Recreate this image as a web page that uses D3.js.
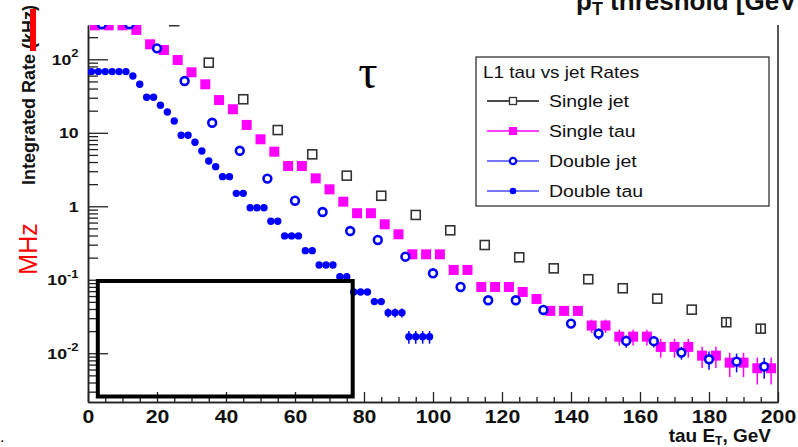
<!DOCTYPE html>
<html>
<head>
<meta charset="utf-8">
<script src="https://cdn.jsdelivr.net/npm/d3@7"></script>
<style>
  body { margin: 0; background: #fff; }
  svg { display: block; font-family: "Liberation Sans", Arial, Helvetica, sans-serif; }
</style>
</head>
<body>
<svg id="chart" width="798" height="447"></svg>
<script>
// ---- Rates vs threshold (kHz), one array per series ----
const singleJetX = [25, 35, 45, 55, 65, 75, 85, 95, 105, 115, 125, 135, 145, 155, 165, 175, 185, 195];
const singleJetY = [330, 89.9, 28.6, 10.9, 5.09, 2.61, 1.39, 0.762, 0.471, 0.297, 0.202, 0.143, 0.1016, 0.0766, 0.0553, 0.0392, 0.0264, 0.0216];
const singleJetErr = [0, 0, 0, 0, 0, 0, 0, 0, 0, 0, 0, 0, 0, 0, 0, 0, 0.0035, 0.003];

const singleTauX = [2, 6, 10, 14, 18, 22, 26, 30, 34, 38, 42, 46, 50, 54, 58, 62, 66, 70, 74, 78, 82, 86, 90, 94, 98,
  102, 106, 110, 114, 118, 122, 126, 130, 134, 138, 142, 146, 150, 154, 158, 162, 166, 170, 174, 178, 182, 186, 190, 194, 198];
const singleTauY = [290, 290, 290, 251, 160, 134, 97.8, 66.6, 45.7, 27.9, 20.9, 12.8, 8.16, 5.53, 3.53, 3.53, 2.40, 1.70, 1.155, 0.804, 0.804, 0.569, 0.416, 0.222, 0.222,
  0.222, 0.136, 0.136, 0.0798, 0.0798, 0.0798, 0.0682, 0.0548, 0.0377, 0.0377, 0.0377, 0.0238, 0.0238, 0.0168, 0.0168, 0.0168, 0.0122, 0.0122, 0.0122, 0.00928, 0.00928, 0.00745, 0.00745, 0.00625, 0.00625];
const singleTauErr = [0, 0, 0, 0, 0, 0, 0, 0, 0, 0, 0, 0, 0, 0, 0, 0, 0, 0, 0, 0, 0, 0, 0, 0, 0,
  0, 0, 0, 0, 0, 0, 0, 0, 0, 0, 0, 0.0049, 0.0049, 0.0041, 0.0041, 0.0041, 0.0035, 0.0035, 0.0035, 0.003, 0.003, 0.0027, 0.0027, 0.0025, 0.0025];

const doubleJetX = [4, 12, 20, 28, 36, 44, 52, 60, 68, 76, 84, 92, 100, 108, 116, 124, 132, 140, 148, 156, 164, 172, 180, 188, 196];
const doubleJetY = [300, 300, 141, 50.7, 13.7, 5.70, 2.38, 1.19, 0.836, 0.461, 0.348, 0.206, 0.1225, 0.0798, 0.0526, 0.0526, 0.0388, 0.0253, 0.0185, 0.0147, 0.0146, 0.0102, 0.00828, 0.00769, 0.00658];
const doubleJetErr = [0, 0, 0, 0, 0, 0, 0, 0, 0, 0, 0, 0, 0, 0, 0, 0, 0, 0.003, 0.0033, 0.0028, 0.0026, 0.002, 0.0023, 0.0022, 0.0021];

const doubleTauX = [1, 3, 5, 7, 9, 11, 13, 15, 17, 19, 21, 23, 25, 27, 29, 31, 33, 35, 37, 39, 41, 43, 45, 47, 49,
  51, 53, 55, 57, 59, 61, 63, 65, 67, 69, 71, 73, 75, 77, 79, 81, 83, 85, 87, 89, 91, 93, 95, 97, 99];
const doubleTauY = [68, 68, 68, 68, 68, 68, 59.3, 45.7, 30.4, 30.4, 23.7, 19.2, 14.5, 9.25, 9.25, 7.43, 5.65, 4.13, 3.46, 2.53, 2.53, 1.50, 1.50, 0.957, 0.957,
  0.957, 0.625, 0.625, 0.395, 0.395, 0.395, 0.249, 0.249, 0.159, 0.159, 0.159, 0.110, 0.110, 0.0682, 0.0682, 0.0682, 0.0504, 0.0504, 0.0357, 0.0357, 0.0357, 0.0168, 0.0168, 0.0168, 0.0168];
const doubleTauErr = [0, 0, 0, 0, 0, 0, 0, 0, 0, 0, 0, 0, 0, 0, 0, 0, 0, 0, 0, 0, 0, 0, 0, 0, 0,
  0, 0, 0, 0, 0, 0, 0, 0, 0, 0, 0, 0, 0, 0, 0, 0, 0, 0, 0.005, 0.005, 0.005, 0.0033, 0.0033, 0.0033, 0.0033];

// ---- Axis ticks ----
const xTickValues = [0, 20, 40, 60, 80, 100, 120, 140, 160, 180, 200];
const xTickLabels = ["0", "20", "40", "60", "80", "100", "120", "140", "160", "180", "200"];
const yTickValues = [0.01, 0.1, 1, 10, 100];
const yTickLabels = [["10", "-2"], ["10", "-1"], ["1", ""], ["10", ""], ["10", "2"]];

const legendTitle = "L1 tau vs jet Rates";
const legendNames = ["Single jet", "Single tau", "Double jet", "Double tau"];

// ---- Layout ----
const plot = { left: 88, right: 778, top: 25, bottom: 402 };
const x = d3.scaleLinear().domain([0, 200]).range([plot.left, plot.right]);
const y = d3.scaleLog().domain([0.00217, 293]).range([plot.bottom, plot.top]);

const BLUE = "#0000ff", MAGENTA = "#ff00ff", AXIS = "#222";
const WIDE = "scale(1.18,1)";   // labels are set slightly wide
const svg = d3.select("#chart");

svg.append("defs").append("clipPath").attr("id", "plotClip")
  .append("rect")
  .attr("x", plot.left).attr("y", plot.top)
  .attr("width", plot.right - plot.left).attr("height", plot.bottom - plot.top);

// Heading fragment at the very top
const head = svg.append("text").attr("x", 576).attr("y", 10)
  .attr("font-size", 26).attr("font-weight", "bold").attr("fill", "#111");
head.append("tspan").text("p");
head.append("tspan").attr("font-size", 18).attr("dy", 5).text("T");
head.append("tspan").attr("dy", -5).text(" threshold [GeV");

// ---- Axes ----
function styleAxis(g) {
  g.attr("font-family", null).attr("font-size", null);
  g.select(".domain").attr("stroke", AXIS).attr("stroke-width", 1.5);
  g.selectAll(".tick line").attr("stroke", AXIS).attr("stroke-width", 1.3);
}

const xMinor = d3.range(0, 201, 5).filter(v => v % 20 !== 0);
const gxMinor = svg.append("g").attr("transform", `translate(0,${plot.bottom})`)
  .call(d3.axisBottom(x).tickValues(xMinor).tickSize(-5).tickSizeOuter(0).tickFormat(""));
styleAxis(gxMinor);
const gx = svg.append("g").attr("transform", `translate(0,${plot.bottom})`)
  .call(d3.axisBottom(x).tickValues(xTickValues).tickSize(-10).tickSizeOuter(0).tickPadding(8)
    .tickFormat((d, i) => xTickLabels[i]));
styleAxis(gx);
gx.selectAll("text").attr("font-size", 18).attr("font-weight", "bold").attr("fill", "#111")
  .attr("transform", WIDE);

const yMinor = [];
for (let e = -3; e <= 2; e++) for (let m = 2; m <= 9; m++) {
  const v = m * Math.pow(10, e);
  if (v >= y.domain()[0] && v <= y.domain()[1]) yMinor.push(v);
}
const gyMinor = svg.append("g").attr("transform", `translate(${plot.left},0)`)
  .call(d3.axisLeft(y).tickValues(yMinor).tickSize(-10).tickSizeOuter(0).tickFormat(""));
styleAxis(gyMinor);
const gy = svg.append("g").attr("transform", `translate(${plot.left},0)`)
  .call(d3.axisLeft(y).tickValues(yTickValues).tickSize(-20).tickSizeOuter(0).tickPadding(8)
    .tickFormat(() => ""));
styleAxis(gy);
gy.selectAll(".tick text").each(function (d, i) {
  const t = d3.select(this).attr("font-size", 15).attr("font-weight", "bold").attr("fill", "#111")
    .attr("transform", WIDE);
  t.text(null);
  t.append("tspan").text(yTickLabels[i][0]);
  if (yTickLabels[i][1]) t.append("tspan").attr("font-size", 11).attr("dy", "-0.65em").text(yTickLabels[i][1]);
});

// right frame edge
svg.append("line").attr("x1", plot.right).attr("x2", plot.right)
  .attr("y1", plot.top).attr("y2", plot.bottom).attr("stroke", AXIS).attr("stroke-width", 1.5);

// Axis titles
svg.append("text")
  .attr("transform", "translate(35,185) rotate(-90)")
  .attr("font-size", 18).attr("font-weight", "bold").attr("fill", "#111")
  .text("Integrated Rate (kHz)");
svg.append("rect").attr("x", 30).attr("y", 9).attr("width", 6).attr("height", 42).attr("fill", "#ff0000");
svg.append("text")
  .attr("transform", "translate(36.5,249) rotate(-90)")
  .attr("text-anchor", "middle").attr("font-size", 25).attr("fill", "#ff0000")
  .text("MHz");

const xt = svg.append("text").attr("x", 771).attr("y", 442).attr("text-anchor", "end")
  .attr("font-size", 19).attr("font-weight", "bold").attr("fill", "#111");
xt.append("tspan").text("tau E");
xt.append("tspan").attr("font-size", 12).attr("dy", 3).text("T");
xt.append("tspan").attr("dy", -3).text(", GeV");

svg.append("text").attr("x", 0).attr("y", 442).attr("font-size", 16).attr("fill", "#111").text(".");

// ---- Data ----
const data = svg.append("g").attr("clip-path", "url(#plotClip)");

function errorBars(xs, ys, es, color) {
  const pts = xs.map((xv, i) => ({ x: xv, y: ys[i], e: es[i] })).filter(p => p.e > 0);
  data.append("g").selectAll("line").data(pts).join("line")
    .attr("x1", p => x(p.x)).attr("x2", p => x(p.x))
    .attr("y1", p => y(p.y + p.e)).attr("y2", p => y(Math.max(p.y - p.e, 1e-5)))
    .attr("stroke", color).attr("stroke-width", 1.5);
}
const pts = (xs, ys) => xs.map((xv, i) => ({ x: xv, y: ys[i] }));

errorBars(singleJetX, singleJetY, singleJetErr, "#333");
errorBars(singleTauX, singleTauY, singleTauErr, MAGENTA);
errorBars(doubleJetX, doubleJetY, doubleJetErr, BLUE);
errorBars(doubleTauX, doubleTauY, doubleTauErr, BLUE);

data.append("g").selectAll("rect").data(pts(singleJetX, singleJetY)).join("rect")
  .attr("x", p => x(p.x) - 4.5).attr("y", p => y(p.y) - 4.5)
  .attr("width", 9).attr("height", 9)
  .attr("fill", "none").attr("stroke", "#333").attr("stroke-width", 1.6);

data.append("g").selectAll("rect").data(pts(singleTauX, singleTauY)).join("rect")
  .attr("x", p => x(p.x) - 5).attr("y", p => y(p.y) - 5)
  .attr("width", 10).attr("height", 10).attr("fill", MAGENTA);

data.append("g").selectAll("circle").data(pts(doubleJetX, doubleJetY)).join("circle")
  .attr("cx", p => x(p.x)).attr("cy", p => y(p.y)).attr("r", 3.9)
  .attr("fill", "#fff").attr("stroke", BLUE).attr("stroke-width", 2.6);

data.append("g").selectAll("circle").data(pts(doubleTauX, doubleTauY)).join("circle")
  .attr("cx", p => x(p.x)).attr("cy", p => y(p.y)).attr("r", 3.7).attr("fill", BLUE);

// ---- Highlight box ----
svg.append("rect").attr("x", 97.8).attr("y", 281).attr("width", 254.9).attr("height", 115.5)
  .attr("fill", "none").attr("stroke", "#000").attr("stroke-width", 4);

// tau symbol
svg.append("text").attr("x", 368).attr("y", 88).attr("text-anchor", "middle")
  .attr("font-family", "'Liberation Serif', 'Times New Roman', serif").attr("font-size", 48).attr("fill", "#000")
  .text("τ");

// ---- Legend ----
const lg = svg.append("g");
lg.append("rect").attr("x", 476).attr("y", 57).attr("width", 293).attr("height", 149)
  .attr("fill", "#fff").attr("stroke", "#222").attr("stroke-width", 1.2);
lg.append("text").attr("transform", `translate(483,78) ${WIDE}`)
  .attr("font-size", 16).attr("fill", "#111").text(legendTitle);
const legendColors = ["#111", MAGENTA, "#4a4aff", "#4a4aff"];
legendNames.forEach((name, i) => {
  const cy = 101 + i * 30;
  lg.append("line").attr("x1", 487).attr("x2", 539).attr("y1", cy).attr("y2", cy)
    .attr("stroke", legendColors[i]).attr("stroke-width", 1.3);
  if (i === 0) lg.append("rect").attr("x", 509.5).attr("y", cy - 3.5).attr("width", 7).attr("height", 7)
    .attr("fill", "#fff").attr("stroke", "#333").attr("stroke-width", 1.3);
  if (i === 1) lg.append("rect").attr("x", 509).attr("y", cy - 4).attr("width", 8).attr("height", 8).attr("fill", MAGENTA);
  if (i === 2) lg.append("circle").attr("cx", 513).attr("cy", cy).attr("r", 3.2)
    .attr("fill", "#fff").attr("stroke", BLUE).attr("stroke-width", 2.2);
  if (i === 3) lg.append("circle").attr("cx", 513).attr("cy", cy).attr("r", 3.3).attr("fill", BLUE);
  lg.append("text").attr("transform", `translate(549,${cy}) ${WIDE}`).attr("dy", "0.35em")
    .attr("font-size", 16.5).attr("fill", "#111").text(name);
});
</script>
</body>
</html>
